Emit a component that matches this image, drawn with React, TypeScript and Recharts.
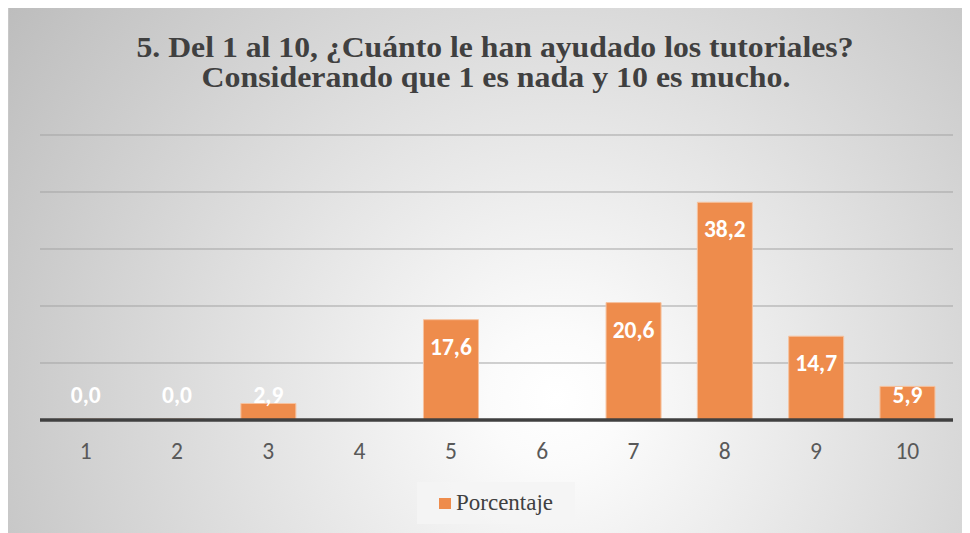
import React from "react";
import { BarChart, Bar, XAxis, YAxis, CartesianGrid, LabelList } from "recharts";

const categories = ["1", "2", "3", "4", "5", "6", "7", "8", "9", "10"];
const porcentaje: (number | null)[] = [0, 0, 2.9, null, 17.6, null, 20.6, 38.2, 14.7, 5.9];
const yTicks = [0, 10, 20, 30, 40, 50];
const titleLines = [
  "5. Del 1 al 10, ¿Cuánto le han ayudado los tutoriales?",
  "Considerando que 1 es nada y 10 es mucho.",
];
const seriesName = "Porcentaje";

const data = categories.map((c, i) => ({ cat: c, value: porcentaje[i] }));

const fmt = (v: number) => v.toFixed(1).replace(".", ",");

const ValueLabel = (props: any) => {
  const { x, y, width, height, value } = props;
  if (value === null || value === undefined) return null;
  const by = Math.min(y + 35, y + height - 17);
  return (
    <text
      x={x + width / 2}
      y={by}
      textAnchor="middle"
      fill="#ffffff"
      fontFamily="Carlito, Calibri, sans-serif"
      fontWeight={700}
      fontSize={23.5}
    >
      {fmt(Number(value))}
    </text>
  );
};

const Tick = (props: any) => {
  const { x, y, payload } = props;
  return (
    <text
      x={x}
      y={y + 38.5}
      textAnchor="middle"
      fill="#595959"
      fontFamily="Carlito, Calibri, sans-serif"
      fontSize={23.5}
    >
      {payload.value}
    </text>
  );
};

export default function App() {
  return (
    <div
      style={{
        position: "relative",
        width: 960,
        height: 526,
        marginTop: -1,
        border: "1px solid #c8c8c8",
        background:
          "radial-gradient(circle farthest-corner at 57% 74%, #ffffff 0%, #fbfbfb 10%, #bdbdbd 100%)",
        overflow: "hidden",
      }}
    >
      <svg
        width={960}
        height={110}
        style={{ position: "absolute", left: 0, top: 0 }}
      >
        <text
          x={486}
          y={49.3}
          textAnchor="middle"
          fontFamily="Liberation Serif, Times New Roman, serif"
          fontWeight={700}
          fontSize={29}
          fill="#404040"
          textLength={717}
          lengthAdjust="spacingAndGlyphs"
        >
          {titleLines[0]}
        </text>
        <text
          x={487}
          y={79.3}
          textAnchor="middle"
          fontFamily="Liberation Serif, Times New Roman, serif"
          fontWeight={700}
          fontSize={29}
          fill="#404040"
          textLength={589}
          lengthAdjust="spacingAndGlyphs"
        >
          {titleLines[1]}
        </text>
      </svg>
      <div style={{ position: "absolute", left: 0, top: 0 }}>
        <BarChart
          width={960}
          height={526}
          data={data}
          margin={{ top: 127, right: 16, bottom: 74, left: 31 }}
          barCategoryGap="20%"
        >
          <CartesianGrid vertical={false} stroke="#a3a3a3" strokeWidth={1} />
          <YAxis hide domain={[0, 50]} ticks={yTicks} />
          <XAxis
            dataKey="cat"
            height={40}
            tickLine={false}
            tickSize={0}
            tickMargin={0}
            axisLine={{ stroke: "#404040", strokeWidth: 3.5 }}
            tick={<Tick />}
            interval={0}
          />
          <Bar
            dataKey="value"
            name={seriesName}
            fill="#ee8c4c"
            stroke="#f6c3a0"
            strokeWidth={1}
            minPointSize={1}
            isAnimationActive={false}
          >
            <LabelList dataKey="value" content={<ValueLabel />} />
          </Bar>
        </BarChart>
      </div>
      <div
        style={{
          position: "absolute",
          left: 408,
          top: 474,
          width: 158,
          height: 42,
          background: "rgba(244,244,244,0.92)",
        }}
      />
      <div
        style={{
          position: "absolute",
          left: 430,
          top: 489.5,
          width: 11.5,
          height: 11.5,
          background: "#ee8c4c",
        }}
      />
      <div
        style={{
          position: "absolute",
          left: 447,
          top: 482.8,
          fontFamily: "'Liberation Serif', 'Times New Roman', serif",
          fontSize: 23,
          lineHeight: "23px",
          color: "#404040",
          whiteSpace: "nowrap",
        }}
      >
        {seriesName}
      </div>
    </div>
  );
}
